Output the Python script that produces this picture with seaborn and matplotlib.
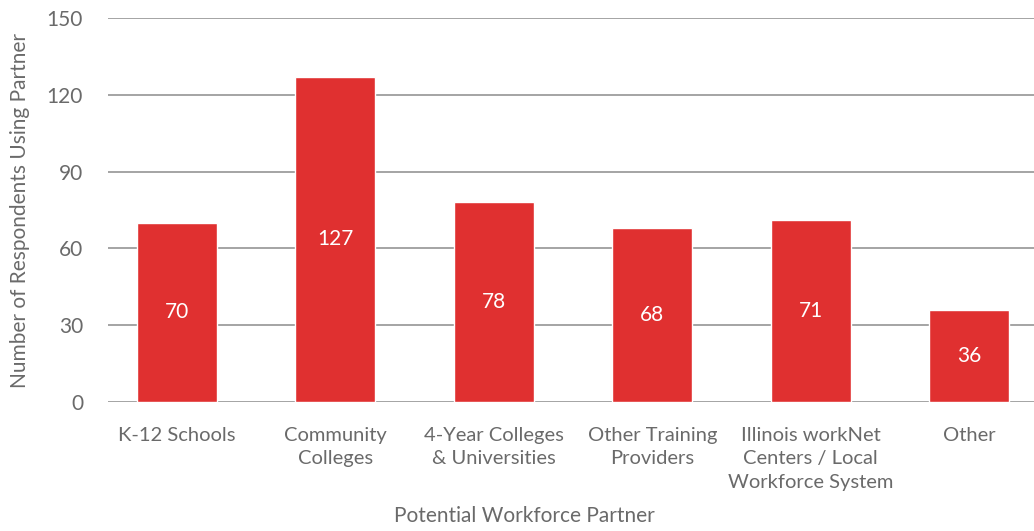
import pandas as pd
import matplotlib
matplotlib.use("Agg")
import matplotlib.pyplot as plt
import seaborn as sns

# --- DATA ---
partners = [
    "K-12 Schools",
    "Community\nColleges",
    "4-Year Colleges\n& Universities",
    "Other Training\nProviders",
    "Illinois workNet\nCenters / Local\nWorkforce System",
    "Other",
]
respondents = [70, 127, 78, 68, 71, 36]
y_ticks = [0, 30, 60, 90, 120, 150]

BAR_RED = "#E03030"
TEXT_GREY = "#6A6A6A"
GRID_GREY = "#8C8C8C"

df = pd.DataFrame({"Partner": partners, "Respondents": respondents})

sns.set_theme(style="white")
plt.rcParams["font.family"] = ["Lato", "DejaVu Sans"]

fig = plt.figure(figsize=(10.34, 5.31), dpi=100)
ax = fig.add_axes([108 / 1034, 129 / 531, 1 - 108 / 1034, 384 / 531])

sns.barplot(data=df, x="Partner", y="Respondents", color=BAR_RED,
            width=0.505, saturation=1, ax=ax, zorder=3)

ax.set_ylim(0, 150)
ax.set_xlim(-0.436, 5.41)
ax.set_yticks(y_ticks)
ax.yaxis.grid(True, color=GRID_GREY, linewidth=1.1, zorder=0)
ax.set_axisbelow(True)
for s in ax.spines.values():
    s.set_visible(False)

ax.tick_params(axis="both", length=0, labelsize=15, colors=TEXT_GREY)
ax.tick_params(axis="y", pad=18)
ax.tick_params(axis="x", pad=18, labelsize=14.5)
for lbl in ax.get_xticklabels():
    lbl.set_linespacing(1.45)

# value labels at the middle of each bar
for i, v in enumerate(respondents):
    ax.text(i, v / 2, str(v), ha="center", va="center",
            color="white", fontsize=15, zorder=4)

ax.set_xlabel("Potential Workforce Partner", fontsize=15, color=TEXT_GREY)
ax.xaxis.set_label_coords(0.45, -0.272)
ax.set_ylabel("Number of Respondents Using Partner", fontsize=15,
              color=TEXT_GREY)
ax.yaxis.set_label_coords(-0.084, 0.5)

fig.savefig("out.png", dpi=100)
